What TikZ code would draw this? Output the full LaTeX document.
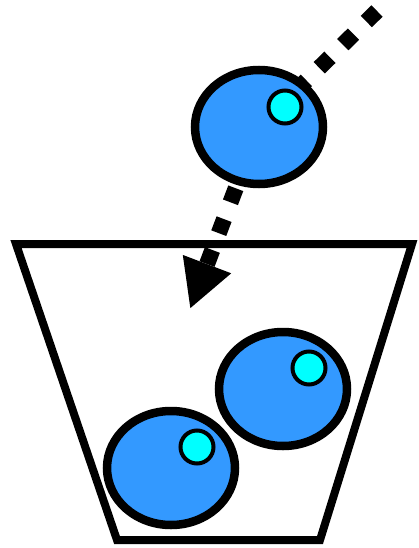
\documentclass[tikz,border=0pt]{standalone}
\usetikzlibrary{arrows.meta,shapes.geometric}

\tikzset{
  ball/.style={ellipse,draw,line width=8.5pt,fill={rgb,255:red,51;green,153;blue,255},
    minimum width=128pt,minimum height=114pt,inner sep=0pt},
  eye/.style={circle,draw,line width=4pt,fill={rgb,255:red,0;green,255;blue,255},
    minimum size=33pt,inner sep=0pt},
}

\begin{document}
\begin{tikzpicture}[x=1pt,y=-1pt]
  \useasboundingbox (0,0) rectangle (419,548);
  % cup
  \draw[line width=8pt] (16,244) -- (412,244) -- (320,540) -- (117,540) -- cycle;
  % falling path
  \coordinate (start) at (377,11);
  \coordinate (c1) at (259,127);
  \coordinate (tip) at (190,309);
  \draw[line width=16pt,dash pattern=on 15pt off 18pt,
    -{Triangle[length=48pt,width=48pt]}] (start) -- (c1) -- (tip);
  % balls
  \node[ball] (b1) at (c1) {};
  \node[eye] (e1) at (285,107) {};
  \node[ball] (b2) at (283,389) {};
  \node[eye] (e2) at (309,368) {};
  \node[ball] (b3) at (171,468) {};
  \node[eye] (e3) at (197,447) {};
\end{tikzpicture}
\end{document}
